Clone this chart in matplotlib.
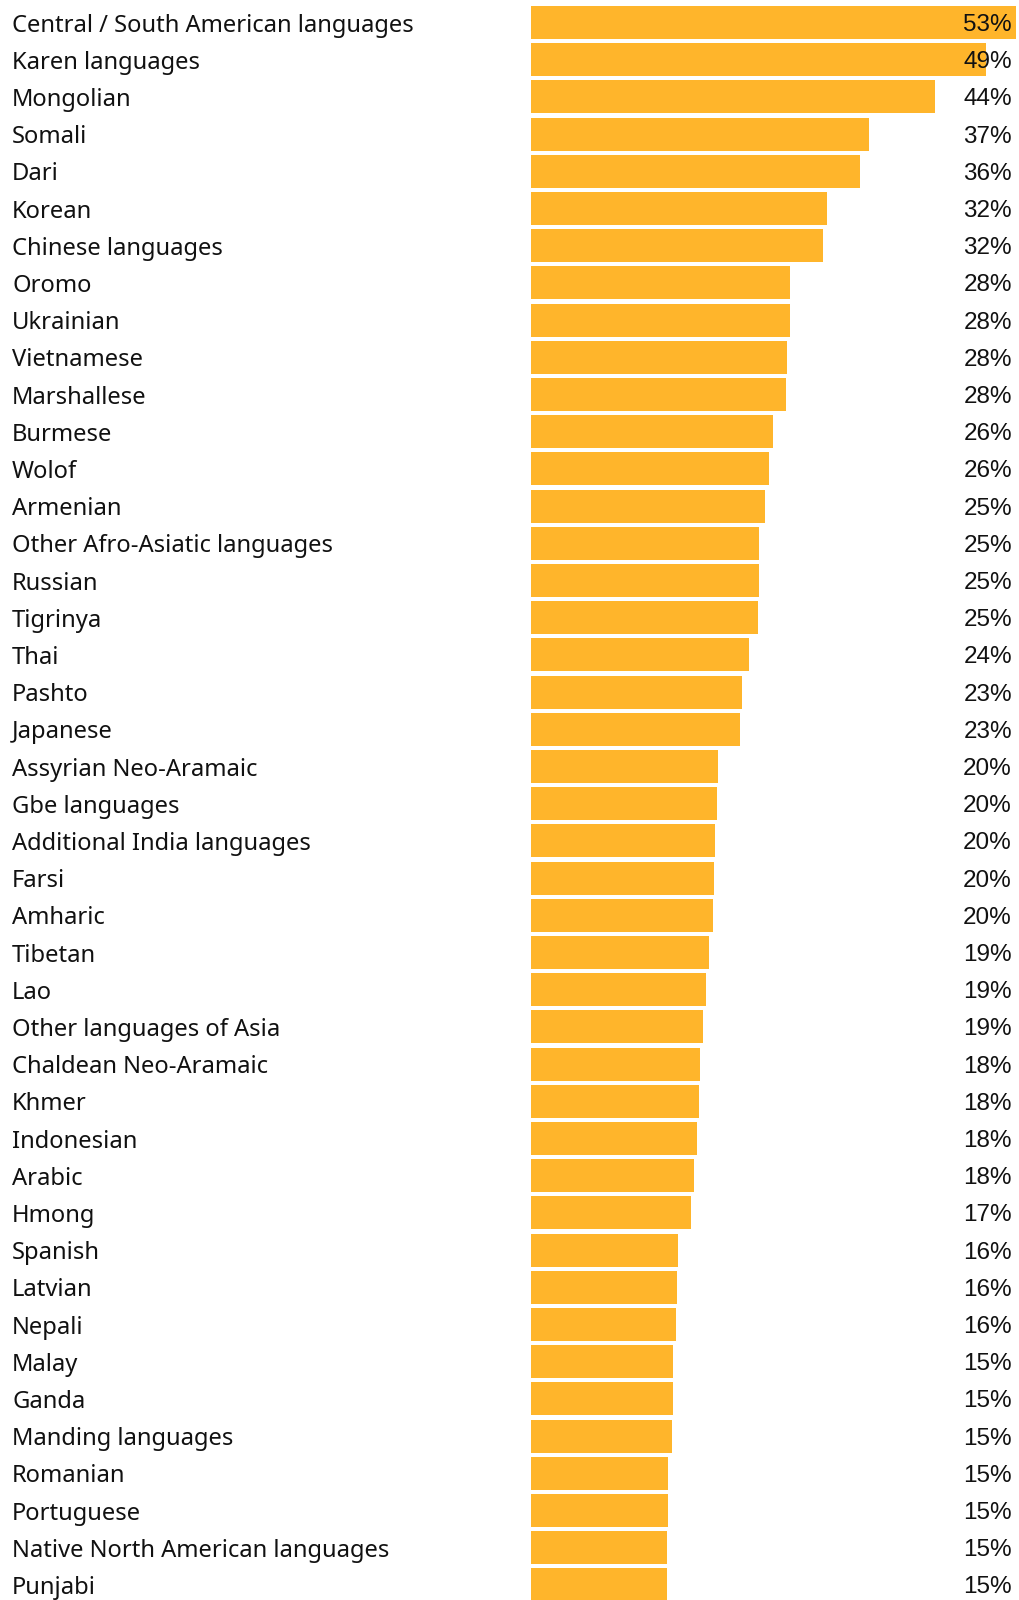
import matplotlib
matplotlib.use('Agg')
from matplotlib import pyplot as plt
from matplotlib.transforms import blended_transform_factory

languages = ['Central / South American languages', 'Karen languages', 'Mongolian', 'Somali', 'Dari',
             'Korean', 'Chinese languages', 'Oromo', 'Ukrainian', 'Vietnamese', 'Marshallese',
             'Burmese', 'Wolof', 'Armenian', 'Other Afro-Asiatic languages', 'Russian', 'Tigrinya',
             'Thai', 'Pashto', 'Japanese', 'Assyrian Neo-Aramaic', 'Gbe languages',
             'Additional India languages', 'Farsi', 'Amharic', 'Tibetan', 'Lao',
             'Other languages of Asia', 'Chaldean Neo-Aramaic', 'Khmer', 'Indonesian', 'Arabic',
             'Hmong', 'Spanish', 'Latvian', 'Nepali', 'Malay', 'Ganda', 'Manding languages',
             'Romanian', 'Portuguese', 'Native North American languages', 'Punjabi']
share = [52.6, 49.3, 43.8, 36.6, 35.6, 32.1, 31.6, 28.1, 28.1, 27.7, 27.6,
         26.2, 25.8, 25.4, 24.7, 24.7, 24.6, 23.6, 22.9, 22.6, 20.3, 20.2,
         19.9, 19.8, 19.7, 19.3, 19.0, 18.6, 18.3, 18.2, 18.0, 17.7,
         17.3, 15.9, 15.8, 15.7, 15.4, 15.4, 15.3, 14.8, 14.8, 14.7, 14.7]

W, H = 1019, 1600
fig = plt.figure(figsize=(W / 100, H / 100), dpi=100)
ax = fig.add_axes([531 / W, 0, 1 - 531 / W, 1])

ys = list(range(len(languages)))
ax.barh(ys, share, height=33 / 37.2, color='#FFB52B', linewidth=0)

ax.set_xlim(0, 488 / 9.23)
ax.set_ylim((H - 22.5) / 37.2, -22.5 / 37.2)
ax.axis('off')

tr = blended_transform_factory(fig.transFigure, ax.transData)
for y, name, v in zip(ys, languages, share):
    ax.text(12 / W, y, name, transform=tr, ha='left', va='center_baseline',
            fontsize=17.1, family='Noto Sans', color='#111111')
    ax.text(1012 / W, y, '%d%%' % round(v), transform=tr, ha='right', va='center_baseline',
            fontsize=17.5, family='Liberation Sans', color='#111111')

fig.savefig('out.png', dpi=100)
